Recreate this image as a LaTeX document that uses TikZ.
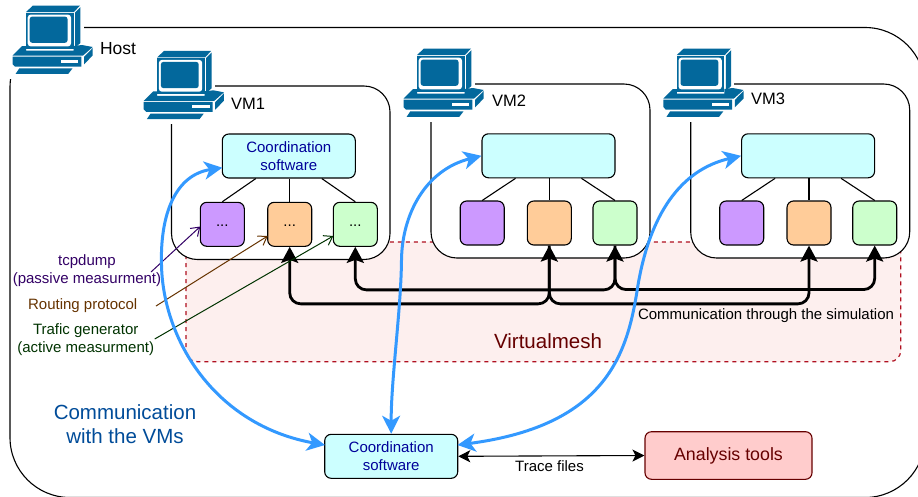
\documentclass[tikz,border=0pt]{standalone}
\usepackage{fontspec}
\setmainfont{Liberation Sans}
\usetikzlibrary{arrows.meta,calc}
\definecolor{pcblue}{HTML}{03689C}
\definecolor{wirebl}{HTML}{3399FF}
\definecolor{cyanbx}{HTML}{CCFFFF}
\definecolor{purpbx}{HTML}{CC99FF}
\definecolor{orgbx}{HTML}{FFCC99}
\definecolor{grnbx}{HTML}{CCFFCC}
\definecolor{pinkbx}{HTML}{FFCCCC}
\definecolor{meshbg}{HTML}{FDEFEE}
\definecolor{meshln}{HTML}{B01020}
\definecolor{softtx}{HTML}{000099}
\definecolor{darkred}{HTML}{660000}
\definecolor{commtx}{HTML}{004C99}
\definecolor{tcptx}{HTML}{330066}
\definecolor{routtx}{HTML}{663300}
\definecolor{traftx}{HTML}{003300}
\tikzset{
  every node/.style={font=\fontsize{15}{17.5}\selectfont, inner sep=0pt, align=center},
  hostbox/.style={draw=black, line width=1.1pt, fill=white, rounded corners=60pt},
  vmbox/.style={draw=black, line width=1.1pt, fill=white, rounded corners=26pt},
  softbox/.style={draw=black, line width=1.1pt, rounded corners=6.5pt, fill=cyanbx, text=softtx, minimum width=133pt, minimum height=44pt},
  cellbox/.style={draw=black, line width=1.1pt, rounded corners=6.5pt, minimum width=44pt, minimum height=44pt},
  tree/.style={draw=black, line width=1.1pt},
  blink/.style={draw=wirebl, line width=3pt, {Stealth[length=18pt,width=18pt,inset=5pt]}-{Stealth[length=18pt,width=18pt,inset=5pt]}},
  simlink/.style={draw=black, line width=2.8pt, rounded corners=11pt, -{Stealth[length=16pt,width=17pt,inset=3pt]}},
  simlinkboth/.style={draw=black, line width=2.8pt, rounded corners=11pt, {Stealth[length=16pt,width=17pt,inset=3pt]}-{Stealth[length=16pt,width=17pt,inset=3pt]}},
  thinarrow/.style={line width=1pt, -{Straight Barb[length=8pt,width=11pt]}},
  pclabel/.style={font=\fontsize{16.5}{18}\selectfont, anchor=center},
  pics/pc/.style={code={
    \fill[white] (-6,-5) rectangle (71,73);
    \begin{scope}[shift={(-12.5,-5.5)}]
    \fill[pcblue] (26,12) -- (33,5.5) -- (80,5.5) -- (74,12) -- cycle;
    \fill[pcblue] (75,12.6) -- (80.3,7.2) -- (80.3,43) -- (75,48) -- cycle;
    \fill[pcblue] (26,13) rectangle (73.5,49);
    \fill[white, rounded corners=3pt] (27.7,14.6) rectangle (71,46.4);
    \fill[pcblue, rounded corners=2.5pt] (29.7,16.6) rectangle (67.5,42.8);
    \fill[pcblue] (12.5,55.6) -- (22,46) -- (26,46) -- (26,50.5) -- (73.5,50.5) -- (73.5,46) -- (82,45) -- (92.7,47) -- (83,55.6) -- cycle;
    \fill[pcblue] (12.5,56.6) -- (81.3,56.6) -- (81.3,66.6) -- (15,66.6) -- (12.5,64) -- cycle;
    \fill[white] (60.7,60) rectangle (78.3,62.7);
    \fill[pcblue] (84,57) -- (92.7,48) -- (92.7,55.5) -- (84,64.3) -- cycle;
    \fill[pcblue] (19.3,68.4) -- (72.5,68.4) -- (68.3,73.8) -- (15.7,73.8) -- cycle;
    \end{scope}
  }}
}
\newcommand{\lowdots}{\raisebox{-3.5pt}{...}}
\begin{document}
\begin{tikzpicture}[x=1pt,y=-1pt]
\useasboundingbox (0,0) rectangle (918,496);
\begin{scope}
\clip (0,0) rectangle (918,496);
\draw[hostbox] (10,27.5) rectangle (925,497.5);
\path pic at (12.5,5.5) {pc};
\node[font=\fontsize{17.5}{18}\selectfont] (hostlbl) at (118,49) {Host};

\node[draw=meshln, fill=meshbg, line width=1.2pt, dash pattern=on 4pt off 4pt, rounded corners=11pt, minimum width=714.7pt, minimum height=119.7pt] (mesh) at (543.4,301.8) {};
\node[text=darkred, font=\fontsize{20.5}{22}\selectfont] (meshlbl) at (548,341) {Virtualmesh};
\node (simlbl) at (766,316) {Communication through the simulation};

% virtual machines
\draw[vmbox] (171.5,86) rectangle (390,259.5);
\draw[vmbox] (431,84) rectangle (650,258);
\draw[vmbox] (690.7,84) rectangle (909.7,258);
\path pic at (143.7,50.8) {pc};
\path pic at (403.5,48.5) {pc};
\path pic at (663.3,48.5) {pc};
\node[pclabel] (vm1lbl) at (248,104) {VM1};
\node[pclabel] (vm2lbl) at (509,100.5) {VM2};
\node[pclabel] (vm3lbl) at (768,99) {VM3};

% software boxes
\node[softbox] (c1) at (288.8,156) {Coordination\\software};
\node[softbox] (c2) at (548.5,155.8) {};
\node[softbox] (c3) at (808.1,155.8) {};
\node[softbox] (c0) at (391.2,456.3) {Coordination\\software};

\node[cellbox, fill=purpbx] (p1) at (222.3,224.3) {\lowdots};
\node[cellbox, fill=orgbx] (o1) at (289.7,224.3) {\lowdots};
\node[cellbox, fill=grnbx] (g1) at (355.3,224.3) {\lowdots};
\node[cellbox, fill=purpbx] (p2) at (482.2,223) {};
\node[cellbox, fill=orgbx] (o2) at (549.3,223) {};
\node[cellbox, fill=grnbx] (g2) at (615,223) {};
\node[cellbox, fill=purpbx] (p3) at (741.7,223) {};
\node[cellbox, fill=orgbx] (o3) at (809,223) {};
\node[cellbox, fill=grnbx] (g3) at (874.7,223) {};

\node[draw=darkred, line width=1.1pt, fill=pinkbx, rounded corners=6.5pt, minimum width=167pt, minimum height=47.6pt, text=darkred, font=\fontsize{17.8}{20}\selectfont] (an) at (728.5,455.5) {Analysis tools};

% tree links
\foreach \c/\p/\o/\g in {c1/p1/o1/g1,c2/p2/o2/g2,c3/p3/o3/g3}{
  \draw[tree] ($(\c.south)+(-33,0)$) -- (\p.north);
  \draw[tree] (\c.south -| \o.north) -- (\o.north);
  \draw[tree] ($(\c.south)+(33,0)$) -- (\g.north);
}

% simulation links
\draw[simlinkboth] (o1.south) -- ($(o1.south)+(0,57)$) -| (o2.south);
\draw[simlink] (o2.south) -- ($(o2.south)+(0,58.3)$) -| (o3.south);
\draw[simlinkboth] (g1.south) -- ($(g1.south)+(0,43)$) -| (g2.south);
\draw[simlink] (g2.south) -- ($(g2.south)+(0,44)$) -| (g3.south);

% labels and thin arrows
\node[text=tcptx] (tcp) at (87,270.5) {tcpdump\\(passive measurment)};
\node[text=routtx] (rout) at (82.7,305.7) {Routing protocol};
\node[text=traftx] (traf) at (85.7,339.5) {Trafic generator\\(active measurment)};
\coordinate (tcpS) at (151,272);
\coordinate (routS) at (156,306);
\coordinate (trafS) at (154.7,339);
\coordinate (p1T) at (200.3,226.5);
\coordinate (o1T) at (267.7,236);
\coordinate (g1T) at (333.3,236);
\draw[thinarrow, draw=tcptx] (tcpS) -- (p1T);
\draw[thinarrow, draw=routtx] (routS) -- (o1T);
\draw[thinarrow, draw=traftx] (trafS) -- (g1T);

% blue links
\coordinate (c1T) at (222.3,167.7);
\coordinate (c0L) at (325,445);
\coordinate (c0R) at (457.5,445);
\draw[blink] (c1T) .. controls (175,175) and (160,215) .. (161.5,265) .. controls (163,340) and (215,425) .. (c0L);
\draw[blink] (c2.west) .. controls (425,170) and (402,215) .. (401.5,260) .. controls (401,310) and (391,380) .. (c0.north);
\draw[blink] (c3.west) .. controls (680,170) and (650,215) .. (638,285) .. controls (628,350) and (610,425) .. (c0R);

\node[text=commtx, font=\fontsize{20.5}{24}\selectfont] (comm) at (125,424) {Communication\\with the VMs};

% trace files
\draw[line width=1.1pt, {Stealth[length=12pt,width=12pt,inset=3pt]}-{Stealth[length=12pt,width=12pt,inset=3pt]}] (c0.east) -- (an.west);
\node (trace) at (549.5,466) {Trace files};
\end{scope}
\end{tikzpicture}
\end{document}
